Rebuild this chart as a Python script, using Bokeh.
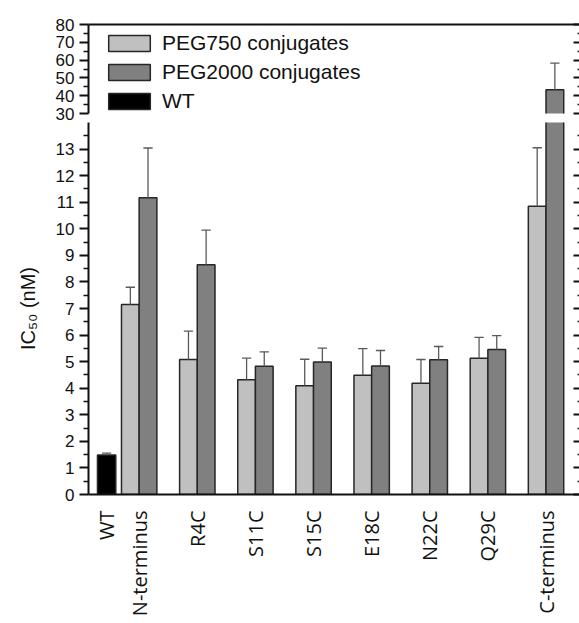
import math
from bokeh.plotting import figure
from bokeh.models import (ColumnDataSource, Range1d, LinearAxis, FixedTicker,
                          Legend, LegendItem, Title)
from bokeh.layouts import column
from bokeh.embed import file_html
from bokeh.resources import INLINE

# ---------------- data ----------------
groups = ["N-terminus", "R4C", "S11C", "S15C", "E18C", "N22C", "Q29C", "C-terminus"]
peg750 = [7.15, 5.08, 4.32, 4.09, 4.49, 4.19, 5.13, 10.85]
peg750_err = [0.65, 1.07, 0.81, 1.00, 1.00, 0.89, 0.78, 2.20]
peg2000 = [11.17, 8.65, 4.83, 4.99, 4.84, 5.07, 5.46, 43.3]
peg2000_err = [1.87, 1.30, 0.54, 0.52, 0.58, 0.50, 0.52, 15.0]
wt_names = ["WT"]
wt_value = [1.49]
wt_err = [0.07]
lower_ticks = list(range(0, 14))
upper_ticks = [30, 40, 50, 60, 70, 80]
series_names = ["PEG750 conjugates", "PEG2000 conjugates", "WT"]

# ---------------- layout constants ----------------
WT_POS = 0.44
OFF = 0.152
BW = 0.305
CAP = 0.08
C750, C2000, CWT = "#c0c0c0", "#808080", "#000000"
EDGE = "#262626"
ERRC = "#5a5a5a"
AXC = "#111111"

gpos = [i + 1 for i in range(len(groups))]
x750 = [g - OFF for g in gpos]
x2000 = [g + OFF for g in gpos]


def src(xs, vals, errs):
    top = [v + e for v, e in zip(vals, errs)]
    return ColumnDataSource(dict(x=xs, v=vals, mid=[v / 2 for v in vals], top=top,
                                 xl=[x - CAP for x in xs], xr=[x + CAP for x in xs]))


s750 = src(x750, peg750, peg750_err)
s2000 = src(x2000, peg2000, peg2000_err)
swt = src([WT_POS], wt_value, wt_err)

xr = Range1d(0.128, 8.576)


def draw(p):
    rs = []
    for s, c, w in ((s750, C750, BW), (s2000, C2000, BW), (swt, CWT, BW + 0.01)):
        r = p.rect(x="x", y="mid", width=w, height="v", source=s, fill_color=c,
                   line_color=EDGE, line_width=1.5)
        p.segment(x0="x", y0="v", x1="x", y1="top", source=s, line_color=ERRC, line_width=1.3)
        p.segment(x0="xl", y0="top", x1="xr", y1="top", source=s, line_color=ERRC, line_width=1.3)
        rs.append(r)
    return rs


def style_left(ax, ticks, minor):
    ax.ticker = FixedTicker(ticks=ticks, minor_ticks=minor)
    ax.axis_line_width = 2
    ax.axis_line_color = AXC
    ax.major_tick_line_width = 2
    ax.major_tick_line_color = AXC
    ax.minor_tick_line_width = 1.5
    ax.minor_tick_line_color = AXC
    ax.major_tick_out = 9
    ax.major_tick_in = 0
    ax.minor_tick_out = 5
    ax.minor_tick_in = 0
    ax.major_label_standoff = 5
    ax.major_label_text_font = "Liberation Sans"
    ax.major_label_text_font_size = "17px"
    ax.major_label_text_color = AXC


def right_axis(p, ticks, minor):
    ax = LinearAxis(ticker=FixedTicker(ticks=ticks, minor_ticks=minor))
    ax.axis_line_color = None
    ax.major_tick_in = 6
    ax.major_tick_out = 0
    ax.minor_tick_in = 2
    ax.minor_tick_out = 0
    ax.major_tick_line_width = 2
    ax.major_tick_line_color = AXC
    ax.minor_tick_line_width = 1.5
    ax.minor_tick_line_color = AXC
    ax.major_label_overrides = {float(t): "" for t in ticks}
    ax.major_label_text_font_size = "1px"
    ax.major_label_standoff = 0
    p.add_layout(ax, "right")


# ---------------- upper panel (30-80) ----------------
up = figure(width=579, height=122, x_range=xr, y_range=Range1d(30, 80),
            output_backend="svg", toolbar_location=None, x_axis_location=None,
            min_border_left=88, min_border_right=0, min_border_top=24, min_border_bottom=9)
up.outline_line_color = None
up.xgrid.visible = False
up.ygrid.visible = False
r750, r2000, rwt = draw(up)
style_left(up.yaxis[0], upper_ticks, [35, 45, 55, 65, 75])
right_axis(up, upper_ticks, [35, 45, 55, 65, 75])
top_ax = LinearAxis(ticker=FixedTicker(ticks=[]))
top_ax.axis_line_width = 2
top_ax.axis_line_color = AXC
top_ax.major_tick_out = 0
top_ax.minor_tick_out = 0
top_ax.major_label_standoff = 0
up.add_layout(top_ax, "above")

legend = Legend(items=[LegendItem(label=series_names[0], renderers=[r750]),
                       LegendItem(label=series_names[1], renderers=[r2000]),
                       LegendItem(label=series_names[2], renderers=[rwt])],
                location=(15, 0), glyph_width=52, glyph_height=20, label_height=20,
                spacing=5, padding=0, margin=0, label_standoff=7,
                label_text_font="Liberation Sans", label_text_font_size="21px",
                label_text_color=AXC, border_line_color=None, background_fill_alpha=0)
up.add_layout(legend)

# ---------------- lower panel (0-14) ----------------
low = figure(width=579, height=501, x_range=xr, y_range=Range1d(0, 14),
             output_backend="svg", toolbar_location=None,
             min_border_left=88, min_border_right=0, min_border_top=0, min_border_bottom=129)
low.outline_line_color = None
low.xgrid.visible = False
low.ygrid.visible = False
draw(low)
style_left(low.yaxis[0], lower_ticks, [t + 0.5 for t in lower_ticks])
right_axis(low, lower_ticks, [t + 0.5 for t in lower_ticks])

xa = low.xaxis[0]
xa.ticker = FixedTicker(ticks=[WT_POS] + gpos)
xa.major_label_overrides = {float(p): n for p, n in zip([WT_POS] + gpos, wt_names + groups)}
xa.major_label_orientation = math.pi / 2
xa.axis_line_width = 2
xa.axis_line_color = AXC
xa.major_tick_out = 0
xa.major_tick_in = 0
xa.minor_tick_out = 0
xa.minor_tick_in = 0
xa.major_label_standoff = 16
xa.major_label_text_font = "Open Sans"
xa.major_label_text_font_size = "20px"
xa.major_label_text_color = AXC

low.add_layout(Title(text="IC\u2085\u2080 (nM)", align="center", text_font_style="normal",
                     text_font="Liberation Sans", text_font_size="20px", text_color=AXC,
                     standoff=27, offset=21), "left")

layout = column(up, low, spacing=0)
open("out.html", "w").write(file_html(layout, INLINE))
